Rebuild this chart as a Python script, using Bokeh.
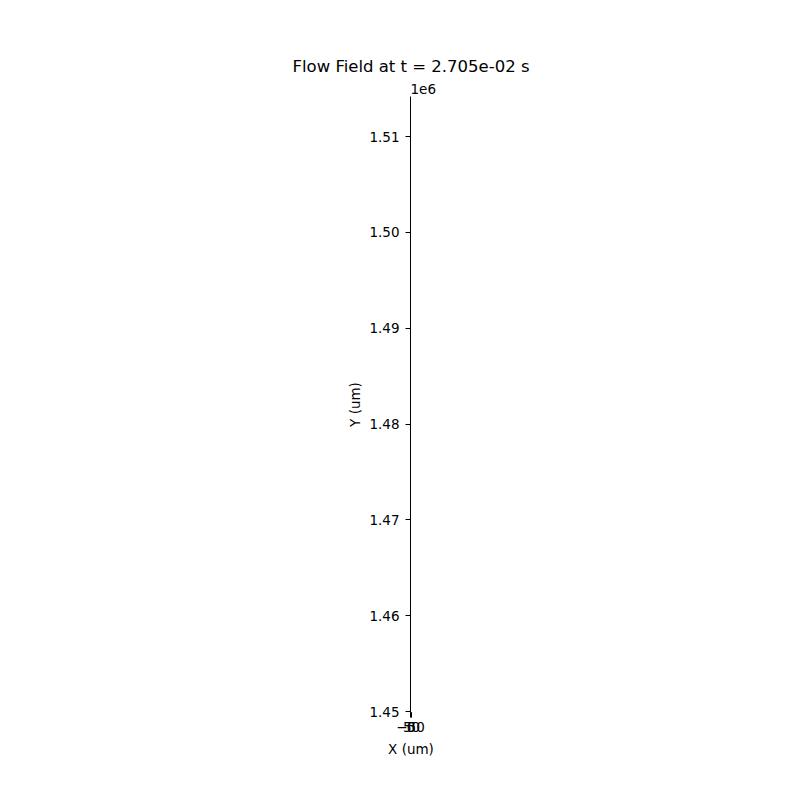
from bokeh.plotting import figure
from bokeh.models import Range1d, FixedTicker, CustomJSTickFormatter, Title
from bokeh.embed import file_html
from bokeh.resources import INLINE

# Data / axis definitions
title_text = "Flow Field at t = 2.705e-02 s"
x_label = "X (um)"
y_label = "Y (um)"
x_limits = [-50, 50]
y_limits = [1.449896e6, 1.514174e6]
x_ticks = [-50, 0, 50]
x_tick_labels = ["\u221250", "0", "50"]
y_ticks = [1.45e6, 1.46e6, 1.47e6, 1.48e6, 1.49e6, 1.50e6, 1.51e6]
y_offset_text = "1e6"

FONT = "DejaVu Sans"

p = figure(width=800, height=800, output_backend="svg", toolbar_location=None,
           title=None,
           x_range=Range1d(*x_limits), y_range=Range1d(*y_limits),
           min_border_left=410, min_border_right=389,
           min_border_top=96, min_border_bottom=88)

# offset text (closest to frame), then main title above it
off = Title(text=y_offset_text, align="left", text_font=FONT,
            text_font_size="13.5px", text_font_style="normal",
            text_color="black", standoff=6, offset=0)
p.add_layout(off, "above")
main = Title(text=title_text, align="center", text_font=FONT,
             text_font_size="16.5px", text_font_style="normal",
             text_color="black", standoff=5)
p.add_layout(main, "above")

p.grid.visible = False
p.outline_line_color = None
p.background_fill_color = "white"
p.border_fill_color = "white"

# empty renderer (no flow data present in the reference)
p.scatter(x=[], y=[])

for ax in (p.xaxis[0], p.yaxis[0]):
    ax.axis_line_color = "black"
    ax.major_tick_line_color = "black"
    ax.minor_tick_line_color = None
    ax.major_tick_out = 5
    ax.major_tick_in = 0
    ax.major_label_text_font = FONT
    ax.major_label_text_font_size = "13.5px"
    ax.major_label_text_color = "black"
    ax.axis_label_text_font = FONT
    ax.axis_label_text_font_size = "13.5px"
    ax.axis_label_text_font_style = "normal"
    ax.axis_label_text_color = "black"

p.xaxis.ticker = FixedTicker(ticks=x_ticks)
p.xaxis.major_label_overrides = {t: l for t, l in zip(x_ticks, x_tick_labels)}
p.xaxis.axis_label = x_label
p.xaxis.major_label_standoff = 4
p.xaxis.axis_label_standoff = 6

p.yaxis.ticker = FixedTicker(ticks=y_ticks)
p.yaxis.formatter = CustomJSTickFormatter(code="return (tick/1e6).toFixed(2)")
p.yaxis.axis_label = y_label
p.yaxis.major_label_standoff = 6
p.yaxis.axis_label_standoff = 3

open("out.html", "w").write(file_html(p, INLINE))
